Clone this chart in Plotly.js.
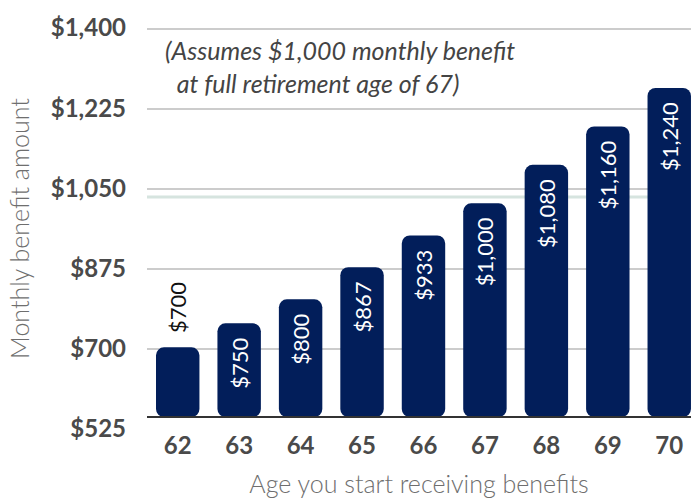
<!DOCTYPE html>
<html>
<head>
<meta charset="utf-8">
<script src="https://cdn.plot.ly/plotly-3.0.1.min.js"></script>
<style>html,body{margin:0;padding:0;background:#fff;}#chart{width:694px;height:498px;}</style>
</head>
<body>
<div id="chart"></div>
<script>
// Data
const ages = ["62", "63", "64", "65", "66", "67", "68", "69", "70"];
const benefits = [700, 750, 800, 867, 933, 1000, 1080, 1160, 1240];
const barLabels = ["$700", "$750", "$800", "$867", "$933", "$1,000", "$1,080", "$1,160", "$1,240"];
const yTickVals = [525, 700, 875, 1050, 1225, 1400];
const yTickText = ["$525", "$700", "$875", "$1,050", "$1,225", "$1,400"];
const gridVals = [700, 875, 1050, 1225, 1400];
const referenceLevel = 1013;   // light reference line (drawn bar scale)
const barBase = 555;

const navy = "#021e5a";
const labelPos = benefits.map((v, i) => i === 0 ? "outside" : "inside");
const labelColor = benefits.map((v, i) => i === 0 ? "#111111" : "#ffffff");
const labelText = barLabels.map((t, i) => i === 0 ? "&nbsp;&nbsp;" + t : t + "&nbsp;&nbsp;");

const axisTrace = { type: "scatter", x: [ages[0]], y: [yTickVals[1]], yaxis: "y", mode: "markers", marker: { opacity: 0 }, hoverinfo: "skip" };
const gridTrace = { type: "scatter", x: [ages[0]], y: [yTickVals[1]], yaxis: "y3", mode: "markers", marker: { opacity: 0 }, hoverinfo: "skip" };

const trace = {
  type: "bar",
  x: ages,
  y: benefits.map(v => v - barBase),
  base: barBase,
  yaxis: "y2",
  marker: { color: navy, cornerradius: 8, line: { width: 0 } },
  width: 0.707,
  text: labelText,
  textposition: labelPos,
  insidetextanchor: "end",
  textangle: -90,
  constraintext: "none",
  cliponaxis: false,
  textfont: { family: "Lato, sans-serif", size: 22, color: labelColor },
  hoverinfo: "skip"
};

const layout = {
  width: 694,
  height: 498,
  margin: { l: 147, r: 3, t: 28, b: 69 },
  paper_bgcolor: "#ffffff",
  plot_bgcolor: "#ffffff",
  showlegend: false,
  font: { family: "Lato, sans-serif", color: "#4a4a4a" },
  xaxis: {
    type: "category",
    categoryorder: "array",
    categoryarray: ages,
    range: [-0.5, 8.354],
    showgrid: false,
    zeroline: false,
    showline: false,
    ticks: "",
    tickfont: { family: "Lato, sans-serif", size: 24, weight: 700, color: "#4a4a4a" },
    title: { text: "Age you start receiving benefits", font: { family: "Lato, sans-serif", size: 25, weight: 300, color: "#6e6e6e" }, standoff: 18 },
    automargin: false
  },
  yaxis: {
    range: [525, 1400],
    tickvals: yTickVals,
    ticktext: yTickText,
    showgrid: false,
    zeroline: false,
    showline: false,
    ticks: "",
    ticklabelstandoff: 20,
    tickfont: { family: "Lato, sans-serif", size: 24, weight: 700, color: "#4a4a4a" },
    title: { text: "Monthly benefit amount", font: { family: "Lato, sans-serif", size: 25, weight: 300, color: "#6e6e6e" }, standoff: 14 },
    automargin: false
  },
  yaxis3: {
    overlaying: "y",
    range: [525, 1403],
    tickvals: gridVals,
    showticklabels: false,
    showgrid: true,
    gridcolor: "#cccccc",
    gridwidth: 2,
    zeroline: false,
    ticks: ""
  },
  yaxis2: {
    overlaying: "y",
    range: [530, 1365],
    showticklabels: false,
    showgrid: false,
    zeroline: false,
    ticks: ""
  },
  shapes: [
    { type: "line", xref: "paper", x0: 0, x1: 1, yref: "y2", y0: referenceLevel, y1: referenceLevel,
      line: { color: "#d6e4df", width: 3 }, layer: "below" },
    { type: "line", xref: "paper", x0: 0, x1: 1, yref: "y2", y0: barBase, y1: barBase,
      line: { color: "#333333", width: 2 }, layer: "above" }
  ],
  annotations: [
    { xref: "paper", yref: "paper", x: 0.03, y: 0.905, xanchor: "left", yanchor: "middle", align: "left",
      showarrow: false,
      text: "(Assumes $1,000 monthly benefit<br>&nbsp;&nbsp;at full retirement age of 67)",
      font: { family: "Lato, sans-serif", size: 25, style: "italic", color: "#444444" } }
  ]
};

Plotly.newPlot("chart", [axisTrace, gridTrace, trace], layout, { staticPlot: true, displayModeBar: false });
</script>
</body>
</html>
